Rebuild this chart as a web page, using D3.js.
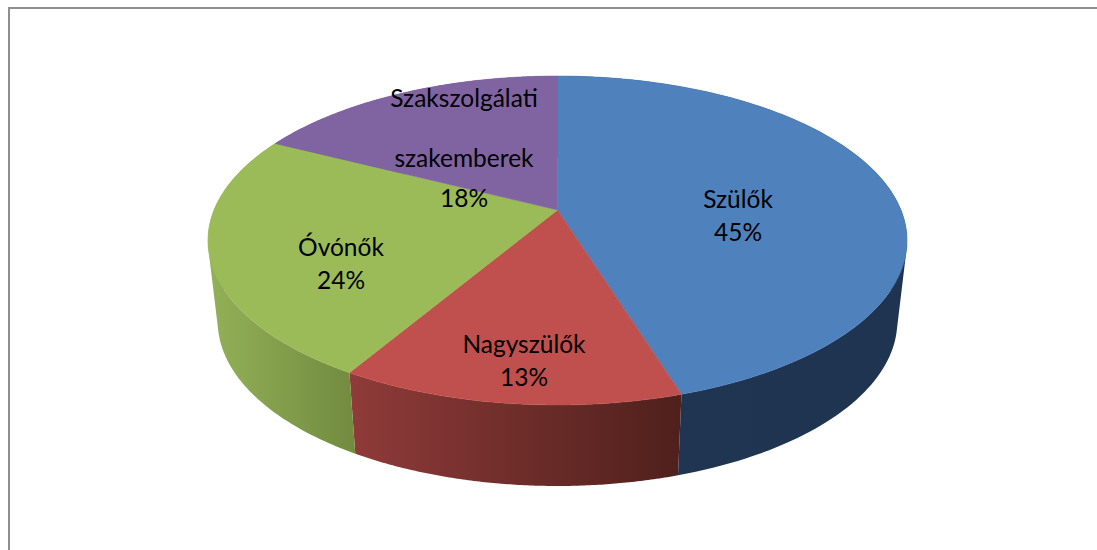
<!DOCTYPE html>
<html>
<head>
<meta charset="utf-8">
<script src="https://cdn.jsdelivr.net/npm/d3@7"></script>
<style>
  html, body { margin: 0; padding: 0; background: #fff; }
  svg { display: block; }
  text { font-family: Lato, "Open Sans", sans-serif; fill: #000; }
</style>
</head>
<body>
<div id="chart-area"></div>
<script>
const categories = ["Szülők", "Nagyszülők", "Óvónők", "Szakszolgálati szakemberek"];
const values = [45.2, 13.3, 24, 17.5];
const percentLabels = ["45%", "13%", "24%", "18%"];
const topColors = ["#4f81bd", "#c0504d", "#9bbb59", "#8064a2"];
const wallColors = [["#1f3551", "#1f3450"], ["#8f3b39", "#4f201c"], ["#93b158", "#738c40"], ["#5d4878", "#5d4878"]];

const svgWidth = 1097, svgHeight = 550;
const cx = 557.5, apexY = 210;
const radiusX = 343.5;
const persp = -0.1854, perspY = 119.9;   // the disc is tilted, so the apex sits above the ellipse centre
const depth = 81, wallScale = 0.972;

// label anchors: x, then the baseline of each line
const labelX = [738, 524, 341, 464];
const labelY = [[208, 241], [353, 386], [256, 289], [107, 167, 207]];

const svg = d3.select("#chart-area")
              .append("svg")
              .attr("width", svgWidth)
              .attr("height", svgHeight);

svg.append("path")
   .attr("d", `M${svgWidth},8 H9 V${svgHeight}`)
   .attr("fill", "none")
   .attr("stroke", "#8f8f8f")
   .attr("stroke-width", 2);

const pie = d3.pie().sort(null)(values);

function project(angle, r) {
  const u = Math.sin(angle) * r, v = -Math.cos(angle) * r;
  const w = 1 + persp * v;
  return [cx + radiusX * u / w, (perspY * v + apexY) / w];
}
function lower(p) {
  return [cx + (p[0] - cx) * wallScale, p[1] + depth];
}
function arcPoints(a0, a1) {
  return d3.range(0, 1.0001, 1 / 120).map(t => project(a0 + (a1 - a0) * t, 1));
}

const line = d3.line();
const defs = svg.append("defs");

pie.forEach((d, i) => {
  const xs = arcPoints(d.startAngle, d.endAngle).map(p => p[0]);
  const grad = defs.append("linearGradient")
    .attr("id", "wall" + i)
    .attr("gradientUnits", "userSpaceOnUse")
    .attr("x1", d3.min(xs)).attr("x2", d3.max(xs))
    .attr("y1", 0).attr("y2", 0);
  grad.append("stop").attr("offset", 0).attr("stop-color", wallColors[i][0]);
  grad.append("stop").attr("offset", 1).attr("stop-color", wallColors[i][1]);
});

// the wall is a run of small quads, all wound the same way so nonzero fill merges them
function wallPath(d) {
  const pts = arcPoints(d.startAngle, d.endAngle);
  return d3.pairs(pts).map(([a, b]) => {
    const quad = [a, b, lower(b), lower(a)];
    if (d3.polygonArea(quad) < 0) quad.reverse();
    return line(quad) + "Z";
  }).join("");
}

// walls first, the top of the disc covers whatever faces away
svg.append("g").selectAll("path")
   .data(pie)
   .enter()
   .append("path")
     .attr("d", wallPath)
     .attr("fill", (d, i) => `url(#wall${i})`);

svg.append("g").selectAll("path")
   .data(pie)
   .enter()
   .append("path")
     .attr("d", d => line([project(0, 0)].concat(arcPoints(d.startAngle, d.endAngle))) + "Z")
     .attr("fill", (d, i) => topColors[i])
     .attr("stroke", (d, i) => topColors[i])
     .attr("stroke-width", 0.5);

categories.forEach((name, i) => {
  const lines = name.split(" ").concat(percentLabels[i]);
  lines.forEach((t, j) => {
    svg.append("text")
       .attr("x", labelX[i])
       .attr("y", labelY[i][j])
       .attr("text-anchor", "middle")
       .attr("font-size", 24.5)
       .text(t);
  });
});
</script>
</body>
</html>
